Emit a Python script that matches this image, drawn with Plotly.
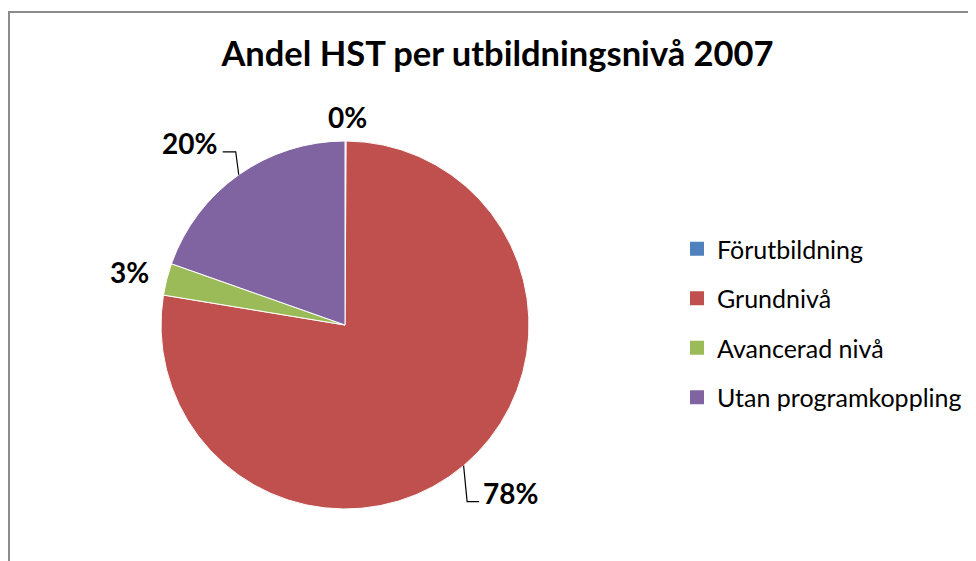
import math
import plotly.graph_objects as go

categories = ["Förutbildning", "Grundnivå", "Avancerad nivå", "Utan programkoppling"]
values = [0.1, 77.5, 2.8, 19.6]
colors = ["#4F81BD", "#C0504D", "#9BBB59", "#8064A2"]
title_text = "Andel HST per utbildningsnivå 2007"

# The page body has an 8px default margin; the figure is sized to fit the window.
OFF = 8
W, H = 976 - OFF, 561 - OFF
FONT = "Lato"

# pie geometry (screen pixels)
CX, CY, R = 345, 325, 184
# label placement relative to slice edge midpoint (pixels): (dx, dy)
label_offsets = [(2, -24), (47, 27), (-37, -7), (-49, -32)]
# leader line elbows relative to slice edge midpoint (pixels), None = no leader
leaders = [None, [(3.5, 36), (15.5, 36)], None, [(-3, -23), (-16, -23)]]


def px(x):
    return (x - OFF) / W


def py(y):
    return 1 - (y - OFF) / H


fig = go.Figure()
fig.add_trace(go.Pie(
    labels=categories,
    values=values,
    sort=False,
    direction="clockwise",
    rotation=0,
    marker=dict(colors=colors, line=dict(color="white", width=1)),
    textinfo="none",
    showlegend=False,
    hoverinfo="label+percent",
    domain=dict(x=[px(CX - R), px(CX + R)], y=[py(CY + R), py(CY - R)]),
))

for i, (cat, col) in enumerate(zip(categories, colors)):
    fig.add_trace(go.Scatter(
        x=[None], y=[None], mode="markers", name=cat,
        marker=dict(symbol="square", size=14, color=col),
        legendgroup=f"g{i}", showlegend=True,
    ))

total = sum(values)
annotations = []
shapes = [dict(type="rect", xref="paper", yref="paper",
               x0=px(9), x1=1.02, y0=-0.02, y1=py(12),
               line=dict(color="#8c8c8c", width=2))]
cum = 0.0
for i, v in enumerate(values):
    mid = (cum + v / 2) / total * 2 * math.pi
    cum += v
    ex = CX + R * math.sin(mid)
    ey = CY - R * math.cos(mid)
    dx, dy = label_offsets[i]
    annotations.append(dict(
        x=px(ex + dx), y=py(ey + dy), xref="paper", yref="paper",
        text=f"{round(v / total * 100)}%", showarrow=False,
        xanchor="center", yanchor="middle",
        font=dict(family=FONT, size=28, color="black", weight="bold"),
    ))
    if leaders[i]:
        pts = [(ex, ey)] + [(ex + a, ey + b) for a, b in leaders[i]]
        path = "M " + " L ".join(f"{px(a)},{py(b)}" for a, b in pts)
        shapes.append(dict(type="path", xref="paper", yref="paper", path=path,
                           line=dict(color="black", width=1.2)))

fig.update_layout(
    width=W, height=H,
    margin=dict(l=0, r=0, t=0, b=0),
    paper_bgcolor="white", plot_bgcolor="white",
    xaxis=dict(visible=False), yaxis=dict(visible=False),
    title=dict(text=title_text, x=px(497.5), xanchor="center", y=py(54), yanchor="middle",
               font=dict(family=FONT, size=34.5, color="black", weight="bold")),
    legend=dict(x=px(677), xanchor="left", y=py(226), yanchor="top",
                font=dict(family=FONT, size=25, color="black"),
                tracegroupgap=14, bgcolor="rgba(0,0,0,0)"),
    annotations=annotations,
    shapes=shapes,
)

fig.write_html("out.html")
